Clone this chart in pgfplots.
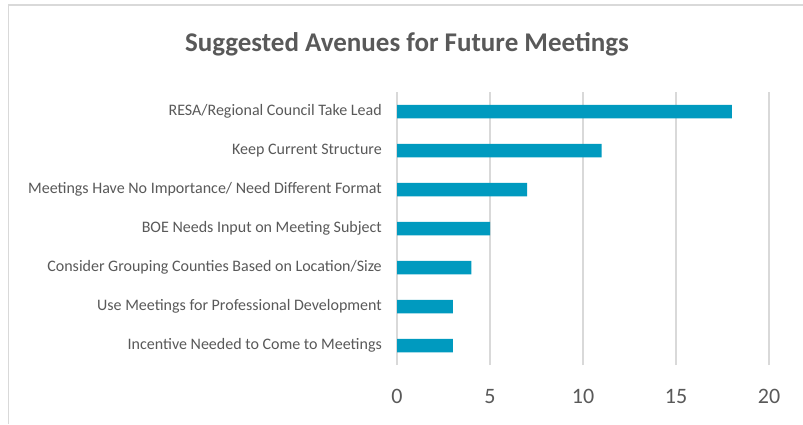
\documentclass[border=0pt]{standalone}
\usepackage{pgfplots}
\pgfplotsset{compat=1.18}
\usepackage{fontspec}
\setmainfont{Carlito}
\definecolor{bar}{RGB}{0,154,191}
\definecolor{txt}{RGB}{89,89,89}
\definecolor{grid}{RGB}{217,217,217}
\begin{document}
\begin{tikzpicture}[x=1pt,y=1pt]
\useasboundingbox (0,0) rectangle (803,424);
\fill[white] (0,0) rectangle (803,424);
\draw[color=grid, line width=1.5pt] (8.5,0) -- (8.5,419) -- (803,419);
\node[font=\bfseries\fontsize{27}{32}\selectfont, text=txt] at (407,380) {Suggested Avenues for Future Meetings};
\begin{axis}[
  at={(397pt,59pt)}, anchor=south west,
  scale only axis, width=372pt, height=273pt,
  xbar, bar width=13.5pt,
  xmin=0, xmax=20, ymin=-0.5, ymax=6.5,
  xtick={0,5,10,15,20},
  ytick={0,1,2,3,4,5,6},
  yticklabels={Incentive Needed to Come to Meetings,Use Meetings for Professional Development,Consider Grouping Counties Based on Location/Size,BOE Needs Input on Meeting Subject,Meetings Have No Importance/ Need Different Format,Keep Current Structure,RESA/Regional Council Take Lead},
  axis line style={draw=none},
  major tick length=0pt,
  xmajorgrids,
  major grid style={color=grid, line width=1.5pt},
  /pgf/number format/assume math mode=true,
  xticklabel style={font=\fontsize{22}{26}\selectfont, text=txt, anchor=base, inner sep=0pt, yshift=-38.5pt},
  yticklabel style={font=\fontsize{16}{19}\selectfont, text=txt, anchor=east, inner sep=0pt, xshift=-15pt},
]
\addplot[fill=bar, draw=none] coordinates {(3,0) (3,1) (4,2) (5,3) (7,4) (11,5) (18,6)};
\end{axis}
\end{tikzpicture}
\end{document}
